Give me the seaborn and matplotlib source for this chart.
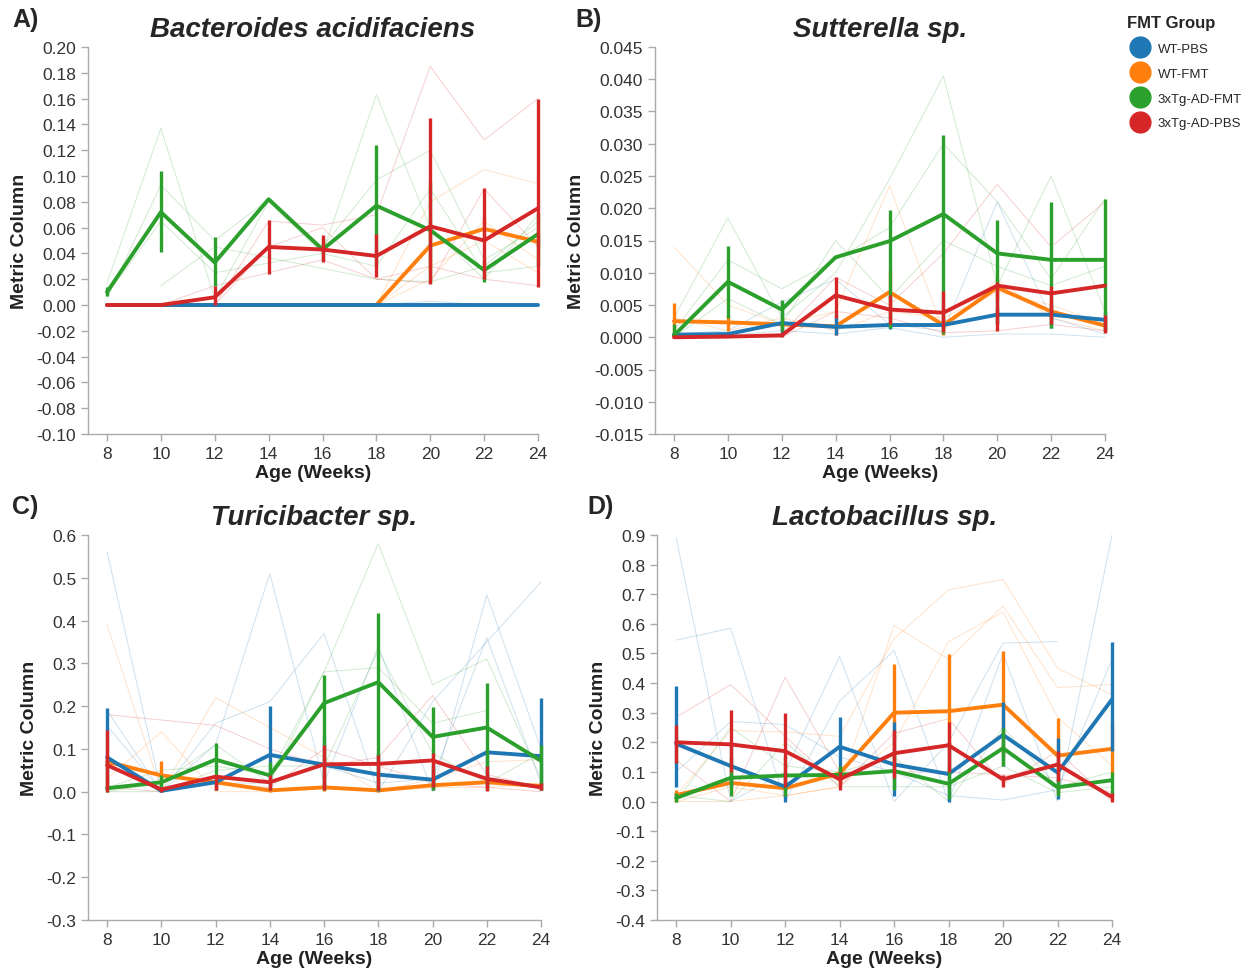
import numpy as np
import pandas as pd
import matplotlib
matplotlib.use("Agg")
import matplotlib.pyplot as plt
from matplotlib.lines import Line2D
import seaborn as sns

nan = np.nan
AGES = [8, 10, 12, 14, 16, 18, 20, 22, 24]
GROUPS = ["WT-PBS", "WT-FMT", "3xTg-AD-FMT", "3xTg-AD-PBS"]
COLORS = ["#1f77b4", "#ff7f0e", "#2ca02c", "#d62728"]
DRAW_ORDER = ["WT-FMT", "WT-PBS", "3xTg-AD-FMT", "3xTg-AD-PBS"]
TITLES = ["Bacteroides acidifaciens", "Sutterella sp.", "Turicibacter sp.", "Lactobacillus sp."]
LETTERS = ["A)", "B)", "C)", "D)"]

# ---------------- Panel A: Bacteroides acidifaciens ----------------
A_MEAN = {
    "WT-PBS":      [0, 0, 0, 0, 0, 0, 0, 0, 0],
    "WT-FMT":      [0, 0, 0, 0, 0, 0, 0.046, 0.059, 0.049],
    "3xTg-AD-FMT": [0.010, 0.072, 0.033, 0.082, 0.043, 0.077, 0.058, 0.027, 0.055],
    "3xTg-AD-PBS": [0.000, 0.000, 0.006, 0.045, 0.043, 0.038, 0.061, 0.050, 0.075],
}
A_LO = {
    "WT-PBS":      [0, 0, 0, 0, 0, 0, 0, 0, 0],
    "WT-FMT":      [0, 0, 0, 0, 0, 0, 0.025, 0.050, 0.045],
    "3xTg-AD-FMT": [0.007, 0.041, 0.015, 0.082, 0.035, 0.030, 0.017, 0.018, 0.030],
    "3xTg-AD-PBS": [0.000, 0.000, 0.000, 0.024, 0.033, 0.022, 0.016, 0.020, 0.014],
}
A_HI = {
    "WT-PBS":      [0, 0, 0, 0, 0, 0, 0, 0, 0],
    "WT-FMT":      [0, 0, 0, 0, 0, 0, 0.065, 0.068, 0.055],
    "3xTg-AD-FMT": [0.014, 0.104, 0.053, 0.082, 0.052, 0.124, 0.095, 0.035, 0.071],
    "3xTg-AD-PBS": [0.000, 0.000, 0.015, 0.066, 0.054, 0.055, 0.145, 0.091, 0.160],
}
A_IND = {
    "WT-PBS": [[0, 0, 0, 0, 0, 0, 0.003, 0, 0]],
    "WT-FMT": [[0, 0, 0, 0, 0, 0, 0.080, 0.105, 0.094],
               [0, 0, 0, 0, 0, 0, 0.030, 0.050, 0.025],
               [0, 0, 0, 0, 0, 0, 0.020, 0.065, 0.035]],
    "3xTg-AD-FMT": [[0.017, 0.137, 0.005, 0.080, 0.040, 0.163, 0.060, 0.020, 0.070],
                    [0.005, 0.093, 0.050, 0.082, 0.045, 0.097, 0.120, 0.035, 0.060],
                    [0.008, 0.065, 0.025, nan, 0.040, 0.030, 0.090, 0.025, 0.030],
                    [nan, 0.015, 0.045, nan, nan, 0.020, 0.018, 0.030, 0.065]],
    "3xTg-AD-PBS": [[0, 0, 0.000, 0.065, 0.062, 0.070, 0.185, 0.128, 0.160],
                    [0, 0, 0.015, 0.025, 0.035, 0.020, 0.030, 0.020, 0.015],
                    [0, 0, 0.000, 0.045, 0.060, 0.020, 0.017, 0.090, 0.045]],
}

# ---------------- Panel B: Sutterella sp. ----------------
B_MEAN = {
    "WT-PBS":      [0.0004, 0.0005, 0.0022, 0.0016, 0.0019, 0.0019, 0.0035, 0.0035, 0.0027],
    "WT-FMT":      [0.0025, 0.0023, 0.0020, 0.0017, 0.0070, 0.0019, 0.0077, 0.0040, 0.0018],
    "3xTg-AD-FMT": [0.0003, 0.0086, 0.0043, 0.0124, 0.0149, 0.0191, 0.0130, 0.0120, 0.0120],
    "3xTg-AD-PBS": [0.0000, 0.0001, 0.0003, 0.0065, 0.0043, 0.0038, 0.0080, 0.0068, 0.0080],
}
B_LO = {
    "WT-PBS":      [0.0002, 0.0003, 0.0007, 0.0003, 0.0013, 0.0010, 0.0020, 0.0015, 0.0010],
    "WT-FMT":      [0.0000, 0.0010, 0.0010, 0.0003, 0.0030, 0.0003, 0.0060, 0.0020, 0.0008],
    "3xTg-AD-FMT": [0.0000, 0.0030, 0.0010, 0.0124, 0.0015, 0.0005, 0.0020, 0.0015, 0.0010],
    "3xTg-AD-PBS": [0.0000, 0.0000, 0.0000, 0.0030, 0.0020, 0.0008, 0.0010, 0.0020, 0.0006],
}
B_HI = {
    "WT-PBS":      [0.0008, 0.0008, 0.0055, 0.0035, 0.0025, 0.0030, 0.0045, 0.0050, 0.0040],
    "WT-FMT":      [0.0053, 0.0035, 0.0030, 0.0030, 0.0105, 0.0035, 0.0085, 0.0060, 0.0030],
    "3xTg-AD-FMT": [0.0020, 0.0141, 0.0058, 0.0124, 0.0198, 0.0313, 0.0182, 0.0209, 0.0215],
    "3xTg-AD-PBS": [0.0000, 0.0003, 0.0006, 0.0093, 0.0065, 0.0072, 0.0085, 0.0080, 0.0035],
}
B_IND = {
    "WT-PBS": [[0.0005, 0.0010, 0.0055, 0.0090, 0.0020, 0.0010, 0.0210, 0.0030, 0.0005],
               [0.0000, 0.0003, 0.0010, 0.0005, 0.0015, 0.0000, 0.0005, 0.0005, 0.0000]],
    "WT-FMT": [[0.0140, 0.0050, 0.0020, 0.0040, 0.0235, 0.0010, 0.0090, 0.0030, 0.0010],
               [0.0030, 0.0010, 0.0030, 0.0010, 0.0040, 0.0030, 0.0070, 0.0050, 0.0020]],
    "3xTg-AD-FMT": [[0.0030, 0.0185, 0.0030, 0.0100, 0.0245, 0.0405, 0.0080, 0.0250, 0.0040],
                    [0.0010, 0.0120, 0.0075, 0.0120, 0.0170, 0.0300, 0.0210, 0.0090, 0.0215],
                    [0.0000, 0.0060, 0.0020, 0.0150, 0.0060, 0.0150, 0.0110, 0.0080, 0.0110]],
    "3xTg-AD-PBS": [[0.0000, 0.0000, 0.0005, 0.0093, 0.0050, 0.0130, 0.0237, 0.0140, 0.0210],
                    [0.0000, 0.0000, 0.0000, 0.0040, 0.0030, 0.0007, 0.0010, 0.0020, 0.0010]],
}

# ---------------- Panel C: Turicibacter sp. ----------------
C_MEAN = {
    "WT-PBS":      [0.080, 0.002, 0.022, 0.086, 0.063, 0.040, 0.028, 0.092, 0.083],
    "WT-FMT":      [0.070, 0.038, 0.022, 0.003, 0.010, 0.003, 0.015, 0.022, 0.013],
    "3xTg-AD-FMT": [0.008, 0.022, 0.075, 0.038, 0.207, 0.256, 0.128, 0.150, 0.072],
    "3xTg-AD-PBS": [0.062, 0.005, 0.035, 0.022, 0.064, 0.065, 0.073, 0.030, 0.010],
}
C_LO = {
    "WT-PBS":      [0.005, 0.000, 0.005, 0.005, 0.010, 0.002, 0.003, 0.010, 0.005],
    "WT-FMT":      [0.010, 0.003, 0.005, 0.000, 0.002, 0.000, 0.005, 0.005, 0.003],
    "3xTg-AD-FMT": [0.000, 0.005, 0.020, 0.010, 0.005, 0.005, 0.005, 0.005, 0.005],
    "3xTg-AD-PBS": [0.000, 0.000, 0.005, 0.005, 0.005, 0.005, 0.010, 0.002, 0.003],
}
C_HI = {
    "WT-PBS":      [0.195, 0.010, 0.040, 0.200, 0.130, 0.090, 0.060, 0.100, 0.220],
    "WT-FMT":      [0.070, 0.072, 0.030, 0.010, 0.020, 0.010, 0.030, 0.040, 0.025],
    "3xTg-AD-FMT": [0.015, 0.040, 0.113, 0.070, 0.273, 0.418, 0.197, 0.253, 0.110],
    "3xTg-AD-PBS": [0.143, 0.010, 0.040, 0.040, 0.110, 0.085, 0.090, 0.060, 0.020],
}
C_IND = {
    "WT-PBS": [[0.560, 0.000, 0.110, 0.510, 0.020, 0.340, 0.000, 0.460, 0.100],
               [0.155, 0.000, 0.160, 0.210, 0.370, 0.000, 0.210, 0.350, 0.490],
               [0.190, 0.000, 0.020, 0.020, 0.060, 0.020, 0.030, 0.360, 0.020]],
    "WT-FMT": [[0.390, 0.000, 0.220, 0.150, 0.080, 0.000, 0.030, 0.070, 0.075],
               [0.030, 0.140, 0.000, 0.000, 0.010, 0.000, 0.010, 0.010, 0.020]],
    "3xTg-AD-FMT": [[0.000, 0.020, 0.110, 0.020, 0.280, 0.580, 0.250, 0.310, 0.030],
                    [0.010, 0.050, 0.060, 0.040, 0.280, 0.290, 0.160, 0.190, nan],
                    [0.000, 0.000, 0.050, 0.060, 0.060, 0.330, 0.090, 0.020, 0.090]],
    "3xTg-AD-PBS": [[0.180, nan, 0.155, 0.100, 0.060, 0.080, 0.225, 0.040, 0.010],
                    [0.010, 0.000, 0.020, 0.010, 0.100, 0.060, 0.020, 0.010, 0.000]],
}

# ---------------- Panel D: Lactobacillus sp. ----------------
D_MEAN = {
    "WT-PBS":      [0.195, 0.120, 0.050, 0.185, 0.125, 0.093, 0.225, 0.098, 0.345],
    "WT-FMT":      [0.022, 0.063, 0.045, 0.095, 0.300, 0.305, 0.327, 0.155, 0.178],
    "3xTg-AD-FMT": [0.012, 0.080, 0.088, 0.090, 0.103, 0.060, 0.180, 0.048, 0.072],
    "3xTg-AD-PBS": [0.200, 0.193, 0.170, 0.075, 0.163, 0.190, 0.075, 0.125, 0.015],
}
D_LO = {
    "WT-PBS":      [0.050, 0.050, 0.000, 0.090, 0.020, 0.000, 0.120, 0.010, 0.170],
    "WT-FMT":      [0.000, 0.030, 0.020, 0.060, 0.130, 0.110, 0.150, 0.030, 0.090],
    "3xTg-AD-FMT": [0.000, 0.020, 0.020, 0.060, 0.040, 0.010, 0.120, 0.020, 0.020],
    "3xTg-AD-PBS": [0.130, 0.100, 0.050, 0.040, 0.080, 0.100, 0.050, 0.070, 0.000],
}
D_HI = {
    "WT-PBS":      [0.390, 0.200, 0.100, 0.285, 0.270, 0.200, 0.335, 0.215, 0.540],
    "WT-FMT":      [0.040, 0.100, 0.070, 0.110, 0.463, 0.497, 0.508, 0.282, 0.270],
    "3xTg-AD-FMT": [0.030, 0.150, 0.150, 0.120, 0.160, 0.120, 0.250, 0.080, 0.100],
    "3xTg-AD-PBS": [0.260, 0.310, 0.300, 0.100, 0.240, 0.270, 0.090, 0.170, 0.030],
}
D_IND = {
    "WT-PBS": [[0.890, 0.000, 0.100, 0.490, 0.000, 0.200, 0.535, 0.540, nan],
               [0.545, 0.585, 0.000, 0.340, 0.510, 0.000, 0.500, 0.000, 0.900],
               [0.100, 0.270, 0.260, 0.150, 0.100, 0.020, 0.005, 0.040, 0.480]],
    "WT-FMT": [[0.000, 0.050, 0.020, 0.050, 0.595, 0.480, 0.660, 0.385, 0.395],
               [0.020, 0.240, 0.235, 0.220, 0.550, 0.715, 0.750, 0.450, 0.360],
               [0.000, 0.000, 0.020, 0.050, 0.200, 0.540, 0.640, 0.285, 0.120]],
    "3xTg-AD-FMT": [[0.000, 0.250, 0.120, 0.100, 0.150, 0.000, 0.250, 0.050, 0.100],
                    [0.020, 0.000, 0.200, 0.050, 0.050, 0.050, 0.120, 0.030, 0.050]],
    "3xTg-AD-PBS": [[0.285, 0.395, 0.220, 0.050, 0.230, 0.280, 0.060, 0.170, 0.000],
                    [0.140, 0.000, 0.420, 0.100, 0.100, 0.100, 0.090, 0.080, 0.030]],
}

Y_RANGE = [(-0.10, 0.20, 0.02), (-0.015, 0.045, 0.005), (-0.3, 0.6, 0.1), (-0.4, 0.9, 0.1)]
Y_DEC = [2, 3, 1, 1]

PANELS = [(A_MEAN, A_LO, A_HI, A_IND), (B_MEAN, B_LO, B_HI, B_IND),
          (C_MEAN, C_LO, C_HI, C_IND), (D_MEAN, D_LO, D_HI, D_IND)]

sns.set_theme(style="white")
plt.rcParams["font.family"] = ["Liberation Sans", "DejaVu Sans"]
plt.rcParams["axes.unicode_minus"] = False

W, H = 1253, 978
fig = plt.figure(figsize=(W / 100, H / 100), dpi=100)

# axes boxes in pixels: left, right, top, bottom
BOXES = [(88, 538, 48, 435), (655, 1105, 48, 435),
         (88, 541, 536, 921), (657, 1112, 536, 921)]
palette = dict(zip(GROUPS, COLORS))

for i, (box, (mean, lo, hi, ind)) in enumerate(zip(BOXES, PANELS)):
    l, r, t, b = box
    ax = fig.add_axes([l / W, 1 - b / H, (r - l) / W, (b - t) / H])

    # faint individual lines
    rows = []
    for g in DRAW_ORDER:
        for k, series in enumerate(ind[g]):
            for a, v in zip(AGES, series):
                rows.append({"age": a, "value": v, "group": g, "unit": f"{g}-{k}"})
    dind = pd.DataFrame(rows).dropna()
    sns.lineplot(data=dind, x="age", y="value", hue="group", units="unit",
                 estimator=None, palette=palette, hue_order=DRAW_ORDER,
                 linewidth=0.7, alpha=0.22, legend=False, ax=ax)

    # mean lines + error bars, group by group
    for g in DRAW_ORDER:
        dm = pd.DataFrame({"age": AGES, "value": mean[g]})
        sns.lineplot(data=dm, x="age", y="value", color=palette[g],
                     linewidth=2.8, errorbar=None, legend=False, ax=ax, zorder=3)
        ax.vlines(AGES, lo[g], hi[g], color=palette[g], linewidth=2.4, zorder=3)

    for art in list(ax.lines) + list(ax.collections):
        art.set_clip_on(False)

    y0, y1, st = Y_RANGE[i]
    n = int(round((y1 - y0) / st)) + 1
    yt = np.round(np.linspace(y0, y1, n), 6)
    ax.set_ylim(y0, y1)
    ax.set_yticks(yt)
    ax.set_yticklabels([f"{(v if abs(v) > 1e-9 else 0.0):.{Y_DEC[i]}f}" for v in yt])
    ax.set_xlim(8 - (19 / 431) * 16, 24)
    ax.set_xticks(AGES)
    ax.set_xticklabels([str(a) for a in AGES])

    for s in ["top", "right"]:
        ax.spines[s].set_visible(False)
    for s in ["left", "bottom"]:
        ax.spines[s].set_color("#aaaaaa")
        ax.spines[s].set_linewidth(1.0)
    ax.tick_params(axis="both", which="both", direction="out", length=5, width=1,
                   color="#aaaaaa", labelsize=12.5, labelcolor="#333333", left=True, bottom=True)
    ax.grid(False)

    ax.set_xlabel("Age (Weeks)", fontsize=14, fontweight="bold", color="#222222", labelpad=2)
    ax.set_ylabel("Metric Column", fontsize=14, fontweight="bold", color="#222222", labelpad=6)
    ax.set_title(TITLES[i], fontsize=20, fontweight="bold", style="italic", pad=8)

# panel letters
for (x, y), lab in zip([(12, 20), (575, 20), (12, 507), (587, 507)], LETTERS):
    fig.text(x / W, 1 - y / H, lab, fontsize=18, fontweight="bold", va="center", ha="left")

# legend
handles = [Line2D([0], [0], marker="o", linestyle="", markersize=15,
                  markerfacecolor=c, markeredgecolor=c) for c in COLORS]
leg = fig.legend(handles, GROUPS, title="FMT Group", loc="upper left",
                 bbox_to_anchor=(1122 / W, 1 - 11 / H), frameon=False,
                 fontsize=9.5, title_fontproperties={"weight": "bold", "size": 12},
                 handletextpad=0.3, labelspacing=0.95, borderaxespad=0)
leg._legend_box.align = "left"

fig.savefig("out.png", dpi=100)
